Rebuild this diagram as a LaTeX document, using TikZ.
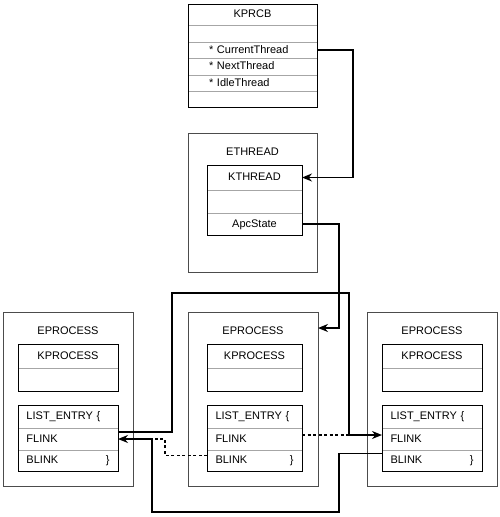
\documentclass[tikz,border=0pt]{standalone}
\usepackage{fontspec}
\setmainfont{Liberation Sans}
\usetikzlibrary{arrows.meta}
\begin{document}
\begin{tikzpicture}[x=1pt,y=-1pt,>={Stealth[length=10pt,width=8pt]},
  font=\fontsize{11pt}{13pt}\selectfont,
  fld/.style={draw=gray!70,line width=0.8pt,anchor=north west,inner sep=0pt,outer sep=0pt,
    text height=8pt,text depth=2pt,align=center},
  lfld/.style={fld,align=left,inner xsep=#1},
  boxline/.style={draw=black,line width=1pt},
  shell/.style={draw=black!70,line width=1pt,anchor=north west,inner sep=0pt,outer sep=0pt},
  link/.style={black,line width=1.6pt},
  dotlink/.style={link,dash pattern=on 3pt off 2.5pt}]
  \useasboundingbox (0,0) rectangle (500,517);
  % KPRCB
  \node[fld,text width=129pt,minimum height=21pt] (kpcb) at (188,4) {KPRCB};
  \node[fld,text width=129pt,minimum height=17pt] (kpe) at (188,25) {};
  \node[lfld=21pt,text width=87pt,minimum height=16pt] (cur) at (188,42) {* CurrentThread};
  \node[lfld=21pt,text width=87pt,minimum height=17pt] (nxt) at (188,58) {* NextThread};
  \node[lfld=21pt,text width=87pt,minimum height=16pt] (idl) at (188,75) {* IdleThread};
  \node[fld,text width=129pt,minimum height=16pt] (kpf) at (188,91) {};
  \draw[boxline] (kpcb.north west) rectangle (kpf.south east);
  % ETHREAD
  \node[shell,minimum width=129pt,minimum height=139pt] (eth) at (188,133) {};
  \node (etht) at (252.5,152) {ETHREAD};
  \node[fld,text width=95pt,minimum height=25pt] (kth) at (207,165) {KTHREAD};
  \node[fld,text width=95pt,minimum height=23pt] (kte) at (207,190) {};
  \node[fld,text width=95pt,minimum height=22pt] (apc) at (207,213) {ApcState};
  \draw[boxline] (kth.north west) rectangle (apc.south east);
  % EPROCESS
  \foreach \n/\x/\i/\w/\tw in {l/3/18/100/83,m/188/207/95/78,r/367/382/100/83}{
    \node[shell,minimum width=130pt,minimum height=174pt] (\n pr) at (\x,312) {};
    \node (\n t) at (\x+65,331) {EPROCESS};
    \node[fld,text width=\w pt,minimum height=24pt] (\n kp) at (\i,344) {KPROCESS};
    \node[fld,text width=\w pt,minimum height=23pt] (\n kq) at (\i,368) {};
    \draw[boxline] (\n kp.north west) rectangle (\n kq.south east);
    \node[lfld=8.5pt,text width=\tw pt,minimum height=23pt] (\n le) at (\i,405) {LIST\_ENTRY \{};
    \node[lfld=8.5pt,text width=\tw pt,minimum height=22pt] (\n fl) at (\i,428) {FLINK};
    \node[lfld=8.5pt,text width=\tw pt,minimum height=21pt] (\n bl) at (\i,450) {BLINK\hfill\}\hspace{6pt}};
    \draw[boxline] (\n le.north west) rectangle (\n bl.south east);
  }
  % links
  \draw[link,->] (cur.east) -- ++(36,0) |- (kth.east);
  \draw[link,->] (apc.east) -- ++(37,0) |- ([yshift=-16pt]mpr.north east);
  \draw[link,->] ([yshift=7pt]lfl.east) -- ++(54,0) |- (349,293) |- ([yshift=4pt]rfl.west);
  \draw[dotlink] ([yshift=4pt]mfl.east) -- ++(47,0);
  \draw[link,->] ([yshift=7pt]rbl.west) -- ++(-43,0) |- (152,512) |- (lfl.east);
  \draw[dotlink] ([yshift=5pt]mbl.west) -- ++(-42,0) |- (152,439);
\end{tikzpicture}
\end{document}
